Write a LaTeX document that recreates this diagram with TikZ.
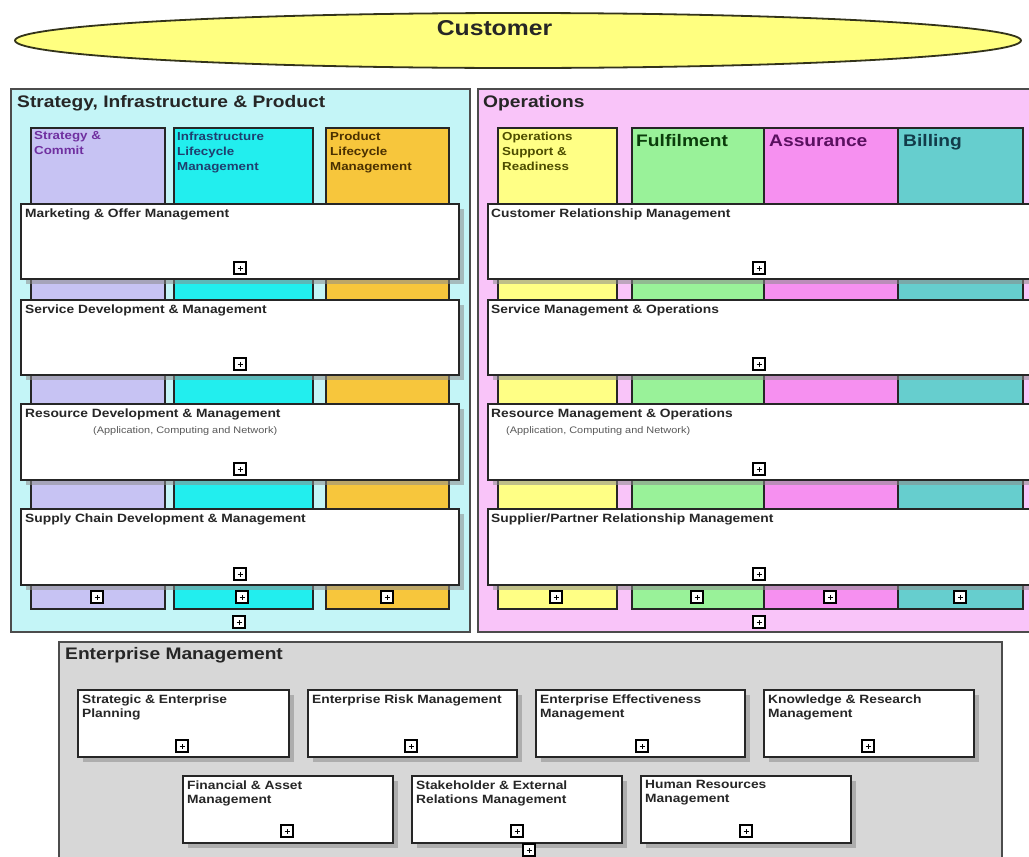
\documentclass[tikz,border=0pt]{standalone}
\usepackage{fontspec}
\setmainfont{Liberation Sans}[FakeStretch=1.15]
\usetikzlibrary{shapes.geometric,shadows}
\definecolor{cCust}{HTML}{FFFF80}
\definecolor{cCustLine}{HTML}{33331A}
\definecolor{cLeft}{HTML}{C4F5F7}
\definecolor{cRight}{HTML}{F9C4F9}
\definecolor{cEnt}{HTML}{D7D7D7}
\definecolor{cStrat}{HTML}{C7C3F3}
\definecolor{cInfra}{HTML}{22EEEE}
\definecolor{cProd}{HTML}{F7C63C}
\definecolor{cOps}{HTML}{FFFF85}
\definecolor{cFul}{HTML}{99F299}
\definecolor{cAss}{HTML}{F690F0}
\definecolor{cBil}{HTML}{66CECE}
\definecolor{tStrat}{HTML}{7030A0}
\definecolor{tInfra}{HTML}{1F3F6F}
\definecolor{tProd}{HTML}{4A3000}
\definecolor{tOps}{HTML}{4D4D00}
\definecolor{tFul}{HTML}{0B3D0B}
\definecolor{tAss}{HTML}{5A1060}
\definecolor{tBil}{HTML}{123C4A}
\begin{document}
\begin{tikzpicture}[x=1pt,y=-1pt,
  panel/.style={draw=black!70, line width=1.5pt, anchor=north west, inner sep=0},
  colbox/.style={draw=black!85, line width=1.8pt, anchor=north west, inner sep=0},
  wbox/.style={draw=black!85, fill=white, line width=1.8pt, anchor=north west, inner sep=0,
    drop shadow={shadow xshift=5pt, shadow yshift=-5pt, fill=black!45, opacity=0.55}},
  paneltitle/.style={anchor=base west, inner sep=0, text=black!85, font=\fontsize{16.7}{20}\selectfont\bfseries},
  coltitle/.style={anchor=base west, inner sep=0, font=\fontsize{16.7}{20}\selectfont\bfseries},
  smalltitle/.style={anchor=north west, inner sep=0, align=left, font=\fontsize{11.6}{15}\selectfont\bfseries},
  boxtitle/.style={anchor=base west, inner sep=0, text=black!85, font=\fontsize{12}{14}\selectfont\bfseries},
  subtitle/.style={anchor=base west, inner sep=0, text=black!65, font=\fontsize{9.5}{11}\selectfont},
  enttitle/.style={anchor=north west, inner sep=0, align=left, text=black!85, font=\fontsize{12}{14}\selectfont\bfseries},
  plusicon/.style={draw=black, fill=white, line width=1.6pt, minimum size=12pt, inner sep=0,
    path picture={\draw[line width=1pt] (path picture bounding box.center) +(-2.5pt,0) -- +(2.5pt,0) +(0,-2.5pt) -- +(0,2.5pt);}}
]
\useasboundingbox (0,0) rectangle (1029,857);
\fill[white] (0,0) rectangle (1029,857);
\clip (0,0) rectangle (1029,857);

% Customer
\node[ellipse, draw=cCustLine, line width=1.8pt, fill=cCust, minimum width=1006pt, minimum height=55pt, inner sep=0] (cust) at (518,40.5) {};
\node[anchor=base, inner sep=0, text=black!85, font=\fontsize{21.5}{24}\selectfont\bfseries] (custtxt) at (494.5,35) {Customer};

% ---------- Left panel ----------
\node[panel, fill=cLeft, minimum width=459pt, minimum height=543pt] (lp) at (10,88) {};
\node[paneltitle] (lpt) at (17,107) {Strategy, Infrastructure \& Product};

\node[colbox, fill=cStrat, minimum width=134pt, minimum height=481pt] (sc) at (30,127) {};
\node[colbox, fill=cInfra, minimum width=139pt, minimum height=481pt] (il) at (173,127) {};
\node[colbox, fill=cProd, minimum width=123pt, minimum height=481pt] (pl) at (325,127) {};
\node[smalltitle, text=tStrat] (sct) at (34,131.5) {Strategy \&\\Commit};
\node[smalltitle, text=tInfra] (ilt) at (177,131.5) {Infrastructure\\Lifecycle\\Management};
\node[smalltitle, text=tProd] (plt) at (330,131.5) {Product\\Lifecycle\\Management};

\node[wbox, minimum width=438pt, minimum height=75pt] (mom) at (20,203) {};
\node[wbox, minimum width=438pt, minimum height=75pt] (sdm) at (20,299) {};
\node[wbox, minimum width=438pt, minimum height=76pt] (rdm) at (20,403) {};
\node[wbox, minimum width=438pt, minimum height=76pt] (scdm) at (20,508) {};
\node[boxtitle] (momt) at (25,217) {Marketing \& Offer Management};
\node[boxtitle] (sdmt) at (25,313) {Service Development \& Management};
\node[boxtitle] (rdmt) at (25,417) {Resource Development \& Management};
\node[subtitle] (rdms) at (93,433) {(Application, Computing and Network)};
\node[boxtitle] (scdmt) at (25,522) {Supply Chain Development \& Management};

\node[plusicon] (pmom) at (240,268) {};
\node[plusicon] (psdm) at (240,364) {};
\node[plusicon] (prdm) at (240,469) {};
\node[plusicon] (pscdm) at (240,574) {};
\node[plusicon] (psc) at (97,597) {};
\node[plusicon] (pil) at (242,597) {};
\node[plusicon] (ppl) at (387,597) {};
\node[plusicon] (plp) at (239,622) {};

% ---------- Right panel ----------
\node[panel, fill=cRight, minimum width=570pt, minimum height=543pt] (rp) at (477,88) {};
\node[paneltitle] (rpt) at (483,107) {Operations};

\node[colbox, fill=cOps, minimum width=119pt, minimum height=481pt] (osr) at (497,127) {};
\node[colbox, fill=cFul, minimum width=132pt, minimum height=481pt] (ful) at (631,127) {};
\node[colbox, fill=cAss, minimum width=134pt, minimum height=481pt] (asr) at (763,127) {};
\node[colbox, fill=cBil, minimum width=125pt, minimum height=481pt] (bil) at (897,127) {};
\node[smalltitle, text=tOps] (osrt) at (502,131.5) {Operations\\Support \&\\Readiness};
\node[coltitle, text=tFul] (fult) at (636,146) {Fulfilment};
\node[coltitle, text=tAss] (asrt) at (769,146) {Assurance};
\node[coltitle, text=tBil] (bilt) at (903,146) {Billing};

\node[wbox, minimum width=560pt, minimum height=75pt] (crm) at (487,203) {};
\node[wbox, minimum width=560pt, minimum height=75pt] (smo) at (487,299) {};
\node[wbox, minimum width=560pt, minimum height=76pt] (rmo) at (487,403) {};
\node[wbox, minimum width=560pt, minimum height=76pt] (sprm) at (487,508) {};
\node[boxtitle] (crmt) at (491,217) {Customer Relationship Management};
\node[boxtitle] (smot) at (491,313) {Service Management \& Operations};
\node[boxtitle] (rmot) at (491,417) {Resource Management \& Operations};
\node[subtitle] (rmos) at (506,433) {(Application, Computing and Network)};
\node[boxtitle] (sprmt) at (491,522) {Supplier/Partner Relationship Management};

\node[plusicon] (pcrm) at (759,268) {};
\node[plusicon] (psmo) at (759,364) {};
\node[plusicon] (prmo) at (759,469) {};
\node[plusicon] (psprm) at (759,574) {};
\node[plusicon] (posr) at (556,597) {};
\node[plusicon] (pful) at (697,597) {};
\node[plusicon] (pasr) at (830,597) {};
\node[plusicon] (pbil) at (960,597) {};
\node[plusicon] (prp) at (759,622) {};

% ---------- Enterprise panel ----------
\node[panel, fill=cEnt, minimum width=943pt, minimum height=240pt] (ep) at (58,641) {};
\node[paneltitle] (ept) at (65,659) {Enterprise Management};

\node[wbox, minimum width=211pt, minimum height=67pt] (sep) at (77,689) {};
\node[wbox, minimum width=209pt, minimum height=67pt] (erm) at (307,689) {};
\node[wbox, minimum width=209pt, minimum height=67pt] (eem) at (535,689) {};
\node[wbox, minimum width=210pt, minimum height=67pt] (krm) at (763,689) {};
\node[wbox, minimum width=210pt, minimum height=67pt] (fam) at (182,775) {};
\node[wbox, minimum width=210pt, minimum height=67pt] (serm) at (411,775) {};
\node[wbox, minimum width=210pt, minimum height=67pt] (hrm) at (640,775) {};

\node[enttitle] (sept) at (82,694.3) {Strategic \& Enterprise\\Planning};
\node[enttitle] (ermt) at (312,694.3) {Enterprise Risk Management};
\node[enttitle] (eemt) at (540,694.3) {Enterprise Effectiveness\\Management};
\node[enttitle] (krmt) at (768,694.3) {Knowledge \& Research\\Management};
\node[enttitle] (famt) at (187,780.3) {Financial \& Asset\\Management};
\node[enttitle] (sermt) at (416,780.3) {Stakeholder \& External\\Relations Management};
\node[enttitle] (hrmt) at (645,780.3) {Human Resources\\Management};

\node[plusicon] (psep) at (182,746) {};
\node[plusicon] (perm) at (411,746) {};
\node[plusicon] (peem) at (642,746) {};
\node[plusicon] (pkrm) at (868,746) {};
\node[plusicon] (pfam) at (287,831) {};
\node[plusicon] (pserm) at (517,831) {};
\node[plusicon] (phrm) at (746,831) {};
\node[plusicon] (pep) at (529,850) {};
\end{tikzpicture}
\end{document}
